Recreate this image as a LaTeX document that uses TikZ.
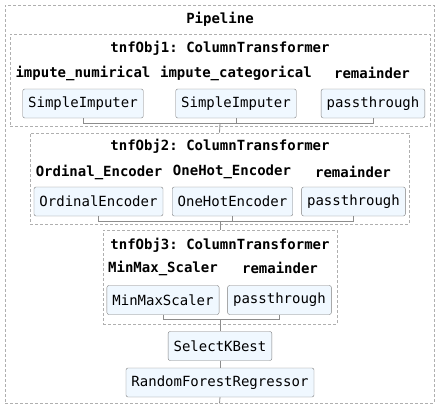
\documentclass[tikz,border=0pt]{standalone}
\usepackage{fontspec}
\setmonofont{DejaVu Sans Mono}
\usepackage{tikz}
\usetikzlibrary{positioning,calc}
\definecolor{boxfill}{RGB}{240,248,255}
\definecolor{boxline}{RGB}{125,125,125}
\definecolor{dashgray}{RGB}{175,175,175}
\definecolor{wiregray}{RGB}{140,140,140}
\tikzset{stepbox/.style={rounded corners=2, draw=boxline, fill=boxfill, inner xsep=5.5pt, inner ysep=0pt, minimum height=29pt, font=\ttfamily\fontsize{14pt}{16pt}\selectfont}}
\tikzset{contbox/.style={draw=dashgray, line width=0.9pt, dash pattern=on 3pt off 2pt, inner sep=0pt}}
\tikzset{lbl/.style={inner sep=0pt, font=\ttfamily\bfseries\fontsize{14pt}{16pt}\selectfont}}
\tikzset{wire/.style={draw=wiregray, line width=0.8pt}}

\begin{document}
\begin{tikzpicture}[x=1pt,y=-1pt]
	\useasboundingbox (0,0) rectangle (440,410);
	% containers
	\node[contbox, minimum width=429pt, minimum height=398pt] (pipe) at (219.5,204) {};
	\node[contbox, minimum width=420pt, minimum height=92pt] (ct1) at (220,80) {};
	\node[contbox, minimum width=379pt, minimum height=91pt] (ct2) at (219.5,178.5) {};
	\node[contbox, minimum width=234pt, minimum height=94pt] (ct3) at (220,277) {};
	
	\node[lbl] (tpipe) at (220,19) {Pipeline};
	
	% first column transformer
	\node[lbl] (t1) at (220,48) {tnfObj1: ColumnTransformer};
	\node[lbl] (l1a) at (83,73) {impute\_numirical};
	\node[lbl] (l1b) at (236,73) {impute\_categorical};
	\node[lbl] (l1c) at (372,73) {remainder};
	\node[stepbox] (s1a) at (83,103.5) {SimpleImputer};
	\node[stepbox] (s1b) at (236,103.5) {SimpleImputer};
	\node[stepbox] (s1c) at (373,103.5) {passthrough};
	\coordinate (j1) at (220,123);
	
	% second column transformer
	\node[lbl] (t2) at (220,146) {tnfObj2: ColumnTransformer};
	\node[lbl] (l2a) at (99,172) {Ordinal\_Encoder};
	\node[lbl] (l2b) at (232,172) {OneHot\_Encoder};
	\node[lbl] (l2c) at (353,172) {remainder};
	\node[stepbox] (s2a) at (98.5,201.5) {OrdinalEncoder};
	\node[stepbox] (s2b) at (232.5,201.5) {OneHotEncoder};
	\node[stepbox] (s2c) at (353.5,201.5) {passthrough};
	\coordinate (j2) at (220,221);
	
	% third column transformer
	\node[lbl] (t3) at (220,245) {tnfObj3: ColumnTransformer};
	\node[lbl] (l3a) at (163,268) {MinMax\_Scaler};
	\node[lbl] (l3b) at (280,268) {remainder};
	\node[stepbox] (s3a) at (163,300) {MinMaxScaler};
	\node[stepbox] (s3b) at (279.5,300) {passthrough};
	\coordinate (j3) at (220,319);
	
	\node[stepbox] (kbest) at (220,346) {SelectKBest};
	\node[stepbox] (rfr) at (220,382.5) {RandomForestRegressor};
	
	% connectors
	\draw[wire] (s1a.south) |- (s1c.south |- j1) -- (s1c.south);
	\draw[wire] (s1b.south) -- (s1b.south |- j1);
	\draw[wire] (j1) -- (ct2.north);
	\draw[wire] (s2a.south) |- (s2c.south |- j2) -- (s2c.south);
	\draw[wire] (s2b.south) -- (s2b.south |- j2);
	\draw[wire] (j2) -- (ct3.north);
	\draw[wire] (s3a.south) |- (s3b.south |- j3) -- (s3b.south);
	\draw[wire] (j3) -- (kbest.north);
	\draw[wire] (kbest) -- (rfr);
	\draw[wire] (rfr.south) -- (pipe.south);
\end{tikzpicture}
\end{document}
